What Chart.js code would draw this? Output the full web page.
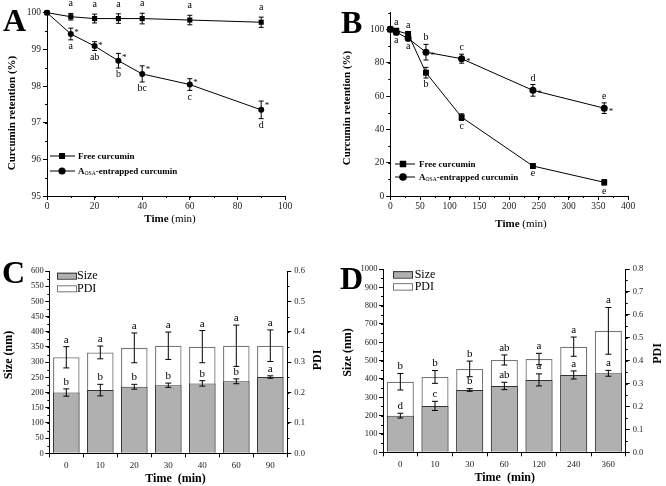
<!DOCTYPE html>
<html><head><meta charset="utf-8">
<script src="https://cdn.jsdelivr.net/npm/chart.js@4.4.0/dist/chart.umd.min.js"></script>
<style>
html,body{margin:0;padding:0;background:#fff;}
#wrap{position:relative;width:666px;height:486px;overflow:hidden;background:#fff;}
canvas{position:absolute;}
.pl{position:absolute;font:bold 32px 'Liberation Serif','Times New Roman',serif;line-height:1;color:#000;}
</style></head><body>
<div id="wrap">
<canvas id="cA" width="333" height="243" style="left:0;top:0"></canvas>
<canvas id="cB" width="333" height="243" style="left:333px;top:0"></canvas>
<canvas id="cC" width="333" height="243" style="left:0;top:243px"></canvas>
<canvas id="cD" width="333" height="243" style="left:333px;top:243px"></canvas>
<div class="pl" style="left:3px;top:4px">A</div>
<div class="pl" style="left:341px;top:6px">B</div>
<div class="pl" style="left:2px;top:256px">C</div>
<div class="pl" style="left:340px;top:262px">D</div>
</div>
<script>
const SERIF = "'Liberation Serif','Times New Roman',serif";

// ---- series names ----
const lineSeriesNames = ['Free curcumin', 'A_{OSA}-entrapped curcumin'];
const barSeriesNames = ['Size', 'PDI'];

// ---- Panel A ----
const timeA = [0, 10, 20, 30, 40, 60, 90];
const freeA = [100, 99.89, 99.84, 99.84, 99.84, 99.80, 99.74];
const freeAErr = [0, 0.09, 0.12, 0.13, 0.145, 0.13, 0.14];
const entA = [100, 99.42, 99.09, 98.69, 98.33, 98.04, 97.35];
const entAErr = [0, 0.16, 0.12, 0.20, 0.22, 0.16, 0.24];
const freeALetters = ['', 'a', 'a', 'a', 'a', 'a', 'a'];
const entALetters = ['', 'a', 'ab', 'b', 'bc', 'c', 'd'];
const entAStars = [0, 1, 1, 1, 1, 1, 1];

// ---- Panel B ----
const timeB = [0, 10, 30, 60, 120, 240, 360];
const freeB = [100, 99.2, 97.2, 74, 47.3, 18, 8.2];
const freeBErr = [0, 1, 1.5, 3.2, 2, 1, 1.6];
const entB = [100, 98.2, 94.6, 86.3, 82.4, 63.4, 52.7];
const entBErr = [0, 1.5, 1.5, 4.7, 2.7, 3.5, 3.2];
const freeBLetters = ['', 'a', 'a', 'b', 'c', 'e', 'e'];
const entBLetters = ['', 'a', 'a', 'b', 'c', 'd', 'e'];
const entBStars = [0, 0, 0, 1, 1, 1, 1];

// ---- Panel C ----
const timeC = ['0', '10', '20', '30', '40', '60', '90'];
const sizeC = [200, 208, 219, 224, 230, 237, 251];
const sizeCErr = [12, 19, 8, 7, 9, 8, 4];
const pdiC = [0.316, 0.332, 0.347, 0.354, 0.351, 0.354, 0.354];
const pdiCErr = [0.035, 0.021, 0.049, 0.045, 0.053, 0.068, 0.052];
const sizeCLetters = ['b', 'b', 'b', 'b', 'b', 'b', 'a'];
const pdiCLetters = ['a', 'a', 'a', 'a', 'a', 'a', 'a'];

// ---- Panel D ----
const timeD = ['0', '10', '30', '60', '120', '240', '360'];
const sizeD = [200, 253, 340, 362, 395, 422, 431];
const sizeDErr = [13, 25, 7, 20, 33, 22, 16];
const pdiD = [0.308, 0.329, 0.364, 0.403, 0.407, 0.461, 0.530];
const pdiDErr = [0.036, 0.028, 0.034, 0.022, 0.025, 0.042, 0.102];
const sizeDLetters = ['d', 'c', 'b', 'ab', 'a', 'a', 'a'];
const pdiDLetters = ['b', 'b', 'b', 'ab', 'a', 'a', 'a'];

// ---- axis titles ----
const titleTimeLine = [['Time', 'bold'], [' (min)', 'normal']];
const titleTimeBar = [['Time  (min)', 'bold']];
const titleRetention = [['Curcumin retention (%)', 'bold']];
const titleSize = [['Size (nm)', 'bold']];
const titlePDI = [['PDI', 'bold']];

// ---------- helpers ----------
function richText(ctx, txt, x, y, size, weight) {
  const parts = txt.split(/(_\{[^}]*\})/);
  let cx = x;
  parts.forEach(p => {
    if (!p) return;
    let sub = false, t = p;
    if (p.startsWith('_{')) { sub = true; t = p.slice(2, -1); }
    ctx.font = (sub ? 'normal ' : weight + ' ') + (sub ? size * 0.62 : size) + 'px ' + SERIF;
    ctx.fillText(t, cx, y + (sub ? size * 0.22 : 0));
    cx += ctx.measureText(t).width;
  });
}

function drawTitle(ctx, t) {
  ctx.save();
  ctx.translate(t.x, t.y);
  if (t.rot) ctx.rotate(t.rot * Math.PI / 180);
  ctx.fillStyle = '#000';
  ctx.textAlign = 'left';
  ctx.textBaseline = 'middle';
  let total = 0;
  t.parts.forEach(p => { ctx.font = p[1] + ' ' + t.fs + 'px ' + SERIF; total += ctx.measureText(p[0]).width; });
  let cx = -total / 2;
  t.parts.forEach(p => {
    ctx.font = p[1] + ' ' + t.fs + 'px ' + SERIF;
    ctx.fillText(p[0], cx, 0);
    cx += ctx.measureText(p[0]).width;
  });
  ctx.restore();
}

const extras = {
  id: 'extras',
  afterDatasetsDraw(chart, args, o) {
    const ctx = chart.ctx;
    ctx.save();
    chart.data.datasets.forEach((ds, di) => {
      if (!ds.err) return;
      const meta = chart.getDatasetMeta(di);
      const ys = chart.scales[meta.yAxisID];
      meta.data.forEach((el, i) => {
        const v = ds.vals[i], e = ds.err[i];
        const x = el.x;
        const yt = ys.getPixelForValue(v + e), yb = ys.getPixelForValue(v - e);
        if (e > 0) {
          ctx.strokeStyle = '#000'; ctx.lineWidth = 1;
          ctx.beginPath();
          ctx.moveTo(x, yt); ctx.lineTo(x, yb);
          ctx.moveTo(x - o.cap, yt); ctx.lineTo(x + o.cap, yt);
          ctx.moveTo(x - o.cap, yb); ctx.lineTo(x + o.cap, yb);
          ctx.stroke();
        }
        const lab = ds.letters && ds.letters[i];
        if (lab) {
          ctx.fillStyle = '#000';
          ctx.textAlign = 'center';
          ctx.textBaseline = 'alphabetic';
          ctx.font = o.lfs + 'px ' + SERIF;
          if (ds.letterPos[i] === 'above') ctx.fillText(lab, x, yt - o.gapAbove);
          else ctx.fillText(lab, x, yb + o.gapBelow);
        }
        if (ds.stars && ds.stars[i]) {
          ctx.fillStyle = '#000';
          ctx.textAlign = 'left';
          ctx.textBaseline = 'alphabetic';
          ctx.font = '9px ' + SERIF;
          const sy = o.starMode === 'top' ? yt + 6.5 : el.y + 5.5;
          ctx.fillText('*', x + o.starDx, sy);
        }
      });
    });
    ctx.restore();
  },
  afterDraw(chart, args, o) {
    const ctx = chart.ctx;
    const ca = chart.chartArea;
    ctx.save();
    ctx.strokeStyle = '#000'; ctx.lineWidth = 1;
    // minor ticks
    if (o.minor) {
      Object.keys(o.minor).forEach(id => {
        const s = chart.scales[id]; const step = o.minor[id];
        ctx.beginPath();
        for (let k = 0; s.min + k * step <= s.max + 1e-9; k++) {
          const p = Math.round(s.getPixelForValue(s.min + k * step)) + 0.5;
          if (s.isHorizontal()) {
            ctx.moveTo(p, ca.bottom); ctx.lineTo(p, ca.bottom + 2);
          } else if (s.position === 'left') {
            ctx.moveTo(ca.left, p); ctx.lineTo(ca.left - 2, p);
          } else {
            ctx.moveTo(ca.right, p); ctx.lineTo(ca.right + 2, p);
          }
        }
        ctx.stroke();
      });
    }
    // axis titles
    if (o.titles) o.titles.forEach(t => drawTitle(ctx, t));
    // legend
    const lg = o.legend;
    if (lg) {
      chart.data.datasets.forEach((ds, i) => {
        const row = lg.rows[i];
        ctx.fillStyle = '#000';
        if (lg.type === 'line') {
          ctx.strokeStyle = '#000'; ctx.lineWidth = 1;
          ctx.beginPath(); ctx.moveTo(lg.x0, row); ctx.lineTo(lg.x1, row); ctx.stroke();
          if (ds.pointStyle === 'rect') {
            const h = lg.sq / 2;
            ctx.fillRect(lg.mx - h, row - h, 2 * h, 2 * h);
          } else {
            ctx.beginPath(); ctx.arc(lg.mx, row, lg.cr, 0, Math.PI * 2); ctx.fill();
          }
          ctx.textAlign = 'left'; ctx.textBaseline = 'middle';
          richText(ctx, ds.label, lg.tx, row + 0.5, lg.fs, 'bold');
        } else {
          ctx.fillStyle = ds.backgroundColor;
          ctx.fillRect(lg.bx, row - lg.bh / 2, lg.bw, lg.bh);
          ctx.strokeStyle = ds.borderColor; ctx.lineWidth = 1;
          ctx.strokeRect(lg.bx + 0.5, row - lg.bh / 2 + 0.5, lg.bw, lg.bh);
          ctx.fillStyle = '#000';
          ctx.textAlign = 'left'; ctx.textBaseline = 'middle';
          ctx.font = lg.fs + 'px ' + SERIF;
          ctx.fillText(ds.label, lg.tx, row + 0.5);
        }
      });
    }
    ctx.restore();
  }
};

function mkAxis(o) {
  const cat = o.type === 'category';
  const ax = {
    type: cat ? 'category' : 'linear',
    position: o.pos,
    offset: cat,
    grid: { drawOnChartArea: false, drawTicks: true, tickLength: 4, color: '#000', lineWidth: 1, offset: cat },
    border: { display: true, color: '#000', width: 1 },
    ticks: { color: '#222', font: { family: SERIF, size: o.fs || 9.5 }, padding: (o.tp !== undefined ? o.tp : 2), maxRotation: 0, autoSkip: false },
    title: { display: false }
  };
  if (!cat) {
    ax.min = o.min; ax.max = o.max; ax.ticks.stepSize = o.step;
    ax.ticks.callback = o.fmt || (v => String(v));
  }
  const filt = o.filter;
  const w = o.w, h = o.h;
  ax.afterBuildTicks = s => {
    if (filt) s.ticks = s.ticks.filter(t => Math.abs(t.value / filt - Math.round(t.value / filt)) < 1e-6);
  };
  ax.afterFit = s => {
    if (w !== undefined) s.width = w;
    if (h !== undefined) s.height = h;
  };
  return ax;
}

function lineDs(label, xs, ys, errs, letters, pos, style, r, stars) {
  return {
    label, data: xs.map((t, i) => ({ x: t, y: ys[i] })),
    vals: ys, err: errs, letters, letterPos: pos, stars,
    borderColor: '#000', backgroundColor: '#000', borderWidth: 1,
    pointStyle: style, pointRadius: r, pointBackgroundColor: '#000', pointBorderColor: '#000', pointBorderWidth: 0,
    tension: 0, clip: false, fill: false
  };
}

const baseOpts = { responsive: false, animation: false, events: [] };

// ---------- Chart A ----------
new Chart(document.getElementById('cA'), {
  type: 'line',
  data: { datasets: [
    lineDs(lineSeriesNames[0], timeA, freeA, freeAErr, freeALetters, freeA.map(() => 'above'), 'rect', 3.6),
    lineDs(lineSeriesNames[1], timeA, entA, entAErr, entALetters, entA.map(() => 'below'), 'circle', 3.0, entAStars)
  ] },
  options: Object.assign({}, baseOpts, {
    layout: { padding: { top: 12.7, right: 48, left: 0, bottom: 0 } },
    scales: {
      x: mkAxis({ pos: 'bottom', min: 0, max: 100, step: 20, h: 47, tp: 1 }),
      y: mkAxis({ pos: 'left', min: 95, max: 100, step: 1, w: 47, tp: 2 })
    },
    plugins: {
      legend: { display: false }, tooltip: { enabled: false },
      extras: { cap: 2.5, lfs: 10, gapAbove: 7, gapBelow: 9.3, starMode: 'top', starDx: 3.5,
        minor: { x: 10, y: 0.5 },
        titles: [
          { parts: titleTimeLine, x: 170, y: 219.5, rot: 0, fs: 11 },
          { parts: titleRetention, x: 12, y: 113, rot: -90, fs: 11 }
        ],
        legend: { type: 'line', x0: 50, x1: 75, mx: 62, tx: 78, rows: [156, 171], fs: 9, sq: 6, cr: 3.6 } }
    }
  }),
  plugins: [extras]
});

// ---------- Chart B ----------
new Chart(document.getElementById('cB'), {
  type: 'line',
  data: { datasets: [
    lineDs(lineSeriesNames[0], timeB, freeB, freeBErr, freeBLetters, ['', 'above', 'above', 'below', 'below', 'below', 'below'], 'rect', 4.2),
    lineDs(lineSeriesNames[1], timeB, entB, entBErr, entBLetters, ['', 'below', 'below', 'above', 'above', 'above', 'above'], 'circle', 3.5, entBStars)
  ] },
  options: Object.assign({}, baseOpts, {
    layout: { padding: { top: 12.7, right: 38, left: 0, bottom: 0 } },
    scales: {
      x: mkAxis({ pos: 'bottom', min: 0, max: 400, step: 50, h: 47, tp: 1 }),
      y: mkAxis({ pos: 'left', min: 0, max: 110, step: 10, filter: 20, w: 57.3, tp: 2 })
    },
    plugins: {
      legend: { display: false }, tooltip: { enabled: false },
      extras: { cap: 2.5, lfs: 10, gapAbove: 4, gapBelow: 8.5, starMode: 'mid', starDx: 4.5,
        minor: { x: 25, y: 10 },
        titles: [
          { parts: titleTimeLine, x: 188, y: 224, rot: 0, fs: 11 },
          { parts: titleRetention, x: 14, y: 108, rot: -90, fs: 11 }
        ],
        legend: { type: 'line', x0: 62, x1: 82, mx: 70, tx: 86, rows: [164, 177], fs: 9, sq: 6.5, cr: 3.8 } }
    }
  }),
  plugins: [extras]
});

function barDatasets(names, sz, szErr, szLet, pdi, pdiErr, pdiLet) {
  return [
    { label: names[0], data: sz, vals: sz, err: szErr, letters: szLet, letterPos: sz.map(() => 'above'),
      yAxisID: 'y', order: 0, grouped: false, backgroundColor: '#b0b0b0', borderColor: '#333', borderWidth: 1,
      categoryPercentage: 0.78, barPercentage: 1 },
    { label: names[1], data: pdi, vals: pdi, err: pdiErr, letters: pdiLet, letterPos: pdi.map(() => 'above'),
      yAxisID: 'y2', order: 1, grouped: false, backgroundColor: '#ffffff', borderColor: '#777', borderWidth: 1.3,
      categoryPercentage: 0.78, barPercentage: 1 }
  ];
}

// ---------- Chart C ----------
new Chart(document.getElementById('cC'), {
  type: 'bar',
  data: { labels: timeC, datasets: barDatasets(barSeriesNames, sizeC, sizeCErr, sizeCLetters, pdiC, pdiCErr, pdiCLetters) },
  options: Object.assign({}, baseOpts, {
    layout: { padding: { top: 28, right: 0, left: 0, bottom: 0 } },
    scales: {
      x: mkAxis({ type: 'category', pos: 'bottom', fs: 9, h: 32.7, tp: 3 }),
      y: mkAxis({ pos: 'left', min: 0, max: 600, step: 50, fs: 8.5, w: 49.3, tp: 1.5 }),
      y2: mkAxis({ pos: 'right', min: 0, max: 0.6, step: 0.1, fs: 8.5, fmt: v => v.toFixed(1), w: 45.7, tp: 3 })
    },
    plugins: {
      legend: { display: false }, tooltip: { enabled: false },
      extras: { cap: 3, lfs: 11, gapAbove: 4, gapBelow: 8, starMode: 'top', starDx: 4,
        minor: { y: 25, y2: 0.05 },
        titles: [
          { parts: titleTimeBar, x: 175.5, y: 236, rot: 0, fs: 12 },
          { parts: titleSize, x: 8.5, y: 112, rot: -90, fs: 12 },
          { parts: titlePDI, x: 318, y: 117, rot: -90, fs: 12 }
        ],
        legend: { type: 'box', bx: 57, bw: 19, bh: 6, rows: [32.7, 45.3], tx: 77, fs: 12 } }
    }
  }),
  plugins: [extras]
});

// ---------- Chart D ----------
new Chart(document.getElementById('cD'), {
  type: 'bar',
  data: { labels: timeD, datasets: barDatasets(barSeriesNames, sizeD, sizeDErr, sizeDLetters, pdiD, pdiDErr, pdiDLetters) },
  options: Object.assign({}, baseOpts, {
    layout: { padding: { top: 26, right: 0, left: 0, bottom: 0 } },
    scales: {
      x: mkAxis({ type: 'category', pos: 'bottom', fs: 9, h: 33.7, tp: 2.7 }),
      y: mkAxis({ pos: 'left', min: 0, max: 1000, step: 100, fs: 8.5, w: 50, tp: 1.5 }),
      y2: mkAxis({ pos: 'right', min: 0, max: 0.8, step: 0.1, fs: 8.5, fmt: v => v.toFixed(1), w: 40.3, tp: 3 })
    },
    plugins: {
      legend: { display: false }, tooltip: { enabled: false },
      extras: { cap: 3, lfs: 11, gapAbove: 4.4, gapBelow: 8, starMode: 'top', starDx: 4,
        minor: { y: 50, y2: 0.05 },
        titles: [
          { parts: titleTimeBar, x: 171.7, y: 234.7, rot: 0, fs: 12 },
          { parts: titleSize, x: 15, y: 109.5, rot: -90, fs: 12 },
          { parts: titlePDI, x: 325, y: 110.5, rot: -90, fs: 12 }
        ],
        legend: { type: 'box', bx: 60, bw: 19, bh: 6.5, rows: [31.4, 43.4], tx: 81.7, fs: 12 } }
    }
  }),
  plugins: [extras]
});
</script>
</body></html>
